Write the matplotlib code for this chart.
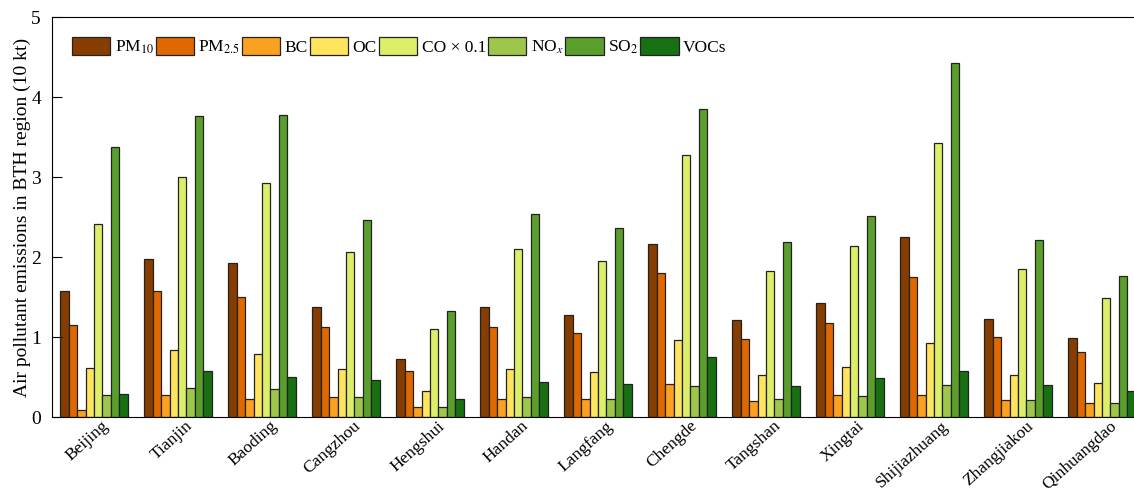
import numpy as np
import matplotlib
matplotlib.use("Agg")
import matplotlib.pyplot as plt

plt.rcParams['font.family'] = ['Liberation Serif', 'DejaVu Serif']
plt.rcParams['mathtext.fontset'] = 'stix'

cities = ['Beijing', 'Tianjin', 'Baoding', 'Cangzhou', 'Hengshui', 'Handan',
          'Langfang', 'Chengde', 'Tangshan', 'Xingtai', 'Shijiazhuang',
          'Zhangjiakou', 'Qinhuangdao']

# emissions per city, 10 kt (CO scaled by 0.1)
pm10 = [1.58, 1.97, 1.93, 1.37, 0.73, 1.38, 1.28, 2.17, 1.21, 1.43, 2.25, 1.22, 0.99]
pm25 = [1.15, 1.57, 1.50, 1.12, 0.58, 1.13, 1.05, 1.80, 0.98, 1.17, 1.75, 1.00, 0.81]
bc   = [0.09, 0.28, 0.23, 0.25, 0.12, 0.23, 0.22, 0.41, 0.20, 0.27, 0.27, 0.21, 0.17]
oc   = [0.61, 0.84, 0.79, 0.60, 0.32, 0.60, 0.56, 0.96, 0.52, 0.63, 0.92, 0.53, 0.43]
co   = [2.42, 3.00, 2.93, 2.06, 1.10, 2.10, 1.95, 3.28, 1.82, 2.14, 3.43, 1.85, 1.49]
nox  = [0.28, 0.36, 0.35, 0.25, 0.13, 0.25, 0.23, 0.39, 0.22, 0.26, 0.40, 0.21, 0.17]
so2  = [3.38, 3.77, 3.78, 2.46, 1.33, 2.54, 2.36, 3.85, 2.19, 2.52, 4.43, 2.21, 1.76]
vocs = [0.29, 0.57, 0.50, 0.46, 0.23, 0.44, 0.41, 0.75, 0.39, 0.49, 0.58, 0.40, 0.33]

series = [pm10, pm25, bc, oc, co, nox, so2, vocs]
labels = [r'PM$_{10}$', r'PM$_{2.5}$', 'BC', 'OC', 'CO × 0.1',
          r'NO$_{x}$', r'SO$_{2}$', 'VOCs']
colors = ['#873C00', '#E06800', '#FBA120', '#FFE45E', '#DDEF68',
          '#9CC74A', '#5A9E2B', '#177012']

fig = plt.figure(figsize=(11.34, 4.92), dpi=100)
# the plot runs a little past the right edge of the canvas
ax = fig.add_axes([0.0459, 0.1524, 0.963, 0.8126])

x = np.arange(len(cities))
w = 0.1
for k, vals in enumerate(series):
    ax.bar(x - 0.35 + k * w, vals, width=w, color=colors[k],
           edgecolor='#222222', linewidth=0.9, label=labels[k])

ax.set_xlim(-0.5, 12.5)
ax.set_ylim(0, 5)
ax.set_yticks(range(6))
# city names sit slightly right of the group centres
ax.set_xticks(x + 0.15)
ax.set_xticklabels(cities, rotation=42, ha='right', va='center',
                   rotation_mode='anchor', fontsize=12.5)
ax.tick_params(axis='x', length=0, pad=5)
ax.tick_params(axis='y', direction='in', length=7, labelsize=14, pad=8)
ax.spines['right'].set_visible(False)
ax.set_ylabel('Air pollutant emissions in BTH region (10 kt)', fontsize=14,
              labelpad=0)

ax.legend(loc='upper left', ncol=8, frameon=False, fontsize=12.5,
          handlelength=2.2, handleheight=1.2, handletextpad=0.25,
          columnspacing=0.12, borderaxespad=0.5, bbox_to_anchor=(0.004, 0.99))

fig.savefig('out.png', dpi=100)
